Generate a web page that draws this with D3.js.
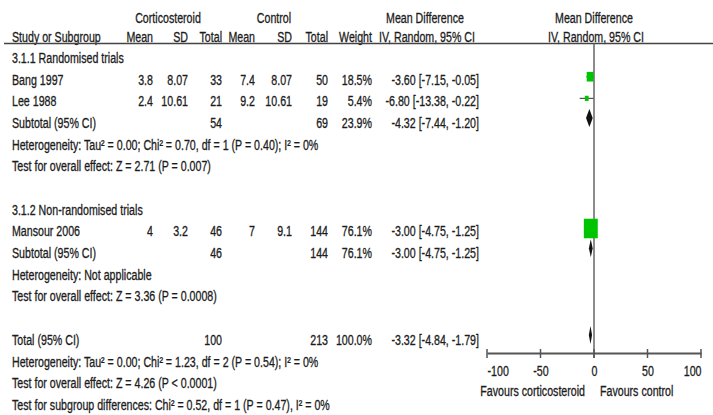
<!DOCTYPE html>
<html>
<head>
<meta charset="utf-8">
<script src="https://cdn.jsdelivr.net/npm/d3@7"></script>
<style>
  body { margin: 0; background: #fff; }
  text { font-family: "Liberation Sans", Arial, sans-serif; font-size: 14px; fill: #1c1c1c; stroke: #1c1c1c; stroke-width: 0.3px; }
</style>
</head>
<body>
<div id="chart"></div>
<script>
// studies
var studies = ["Bang 1997", "Lee 1988", "Mansour 2006"];
var expMean = ["3.8", "2.4", "4"];
var expSD = ["8.07", "10.61", "3.2"];
var expN = [33, 21, 46];
var ctlMean = ["7.4", "9.2", "7"];
var ctlSD = ["8.07", "10.61", "9.1"];
var ctlN = [50, 19, 144];
var weights = [18.5, 5.4, 76.1];
var md = [-3.60, -6.80, -3.00];
var ciLow = [-7.15, -13.38, -4.75];
var ciHigh = [-0.05, -0.22, -1.25];

// subtotals + total
var subLabels = ["Subtotal (95% CI)", "Subtotal (95% CI)", "Total (95% CI)"];
var subExpN = [54, 46, 100];
var subCtlN = [69, 144, 213];
var subWeights = ["23.9%", "76.1%", "100.0%"];
var subMd = [-4.32, -3.00, -3.32];
var subLow = [-7.44, -4.75, -4.84];
var subHigh = [-1.20, -1.25, -1.79];

var groupTitles = ["3.1.1 Randomised trials", "3.1.2 Non-randomised trials"];
var hetText = [
    "Heterogeneity: Tau\u00b2 = 0.00; Chi\u00b2 = 0.70, df = 1 (P = 0.40); I\u00b2 = 0%",
    "Heterogeneity: Not applicable",
    "Heterogeneity: Tau\u00b2 = 0.00; Chi\u00b2 = 1.23, df = 2 (P = 0.54); I\u00b2 = 0%"
];
var effectText = [
    "Test for overall effect: Z = 2.71 (P = 0.007)",
    "Test for overall effect: Z = 3.36 (P = 0.0008)",
    "Test for overall effect: Z = 4.26 (P < 0.0001)"
];
var subgroupText = "Test for subgroup differences: Chi\u00b2 = 0.52, df = 1 (P = 0.47), I\u00b2 = 0%";

var axisTicks = [-100, -50, 0, 50, 100];
var favLeft = "Favours corticosteroid";
var favRight = "Favours control";

var width = 713, height = 415;
var squeeze = 0.76; // narrow look of the original font

var svg = d3.select('#chart')
    .append('svg')
        .attr('width', width)
        .attr('height', height);

// row index -> y
var row = d3.scaleLinear().domain([0, 16]).range([58, 405]);
var x = d3.scaleLinear().domain([-100, 100]).range([487, 701]);
var box = d3.scaleSqrt().domain([0, 100]).range([0, 16]);

// column right edges
var col = { mean1: 153, sd1: 188, n1: 222, mean2: 255, sd2: 292, n2: 328, w: 372, ci: 479 };

function txt(xp, yp, s, anchor) {
    return svg.append('text')
        .attr('x', xp)
        .attr('y', yp)
        .attr('dy', '0.35em')
        .attr('text-anchor', anchor || 'start')
        .text(s);
}
function fmt(v) { return v.toFixed(2); }
function ciStr(m, l, h) { return fmt(m) + ' [' + fmt(l) + ', ' + fmt(h) + ']'; }

/** headers */
txt(168, 18, 'Corticosteroid', 'middle');
txt(274, 18, 'Control', 'middle');
txt(425, 18, 'Mean Difference', 'middle');
txt(594, 18, 'Mean Difference', 'middle');
var hy = 37;
txt(12, hy, 'Study or Subgroup');
txt(col.mean1, hy, 'Mean', 'end');
txt(col.sd1, hy, 'SD', 'end');
txt(col.n1, hy, 'Total', 'end');
txt(col.mean2, hy, 'Mean', 'end');
txt(col.sd2, hy, 'SD', 'end');
txt(col.n2, hy, 'Total', 'end');
txt(col.w, hy, 'Weight', 'end');
txt(427, hy, 'IV, Random, 95% CI', 'middle');
txt(596, hy, 'IV, Random, 95% CI', 'middle');

svg.append('line')
    .attr('x1', 4).attr('x2', width)
    .attr('y1', 43.5).attr('y2', 43.5)
    .attr('stroke', '#444').attr('stroke-width', 1.5);

// zero line
svg.append('line')
    .attr('x1', x(0)).attr('x2', x(0))
    .attr('y1', 43.5).attr('y2', 358)
    .attr('stroke', '#666').attr('stroke-width', 1.5);

/** rows */
var studyRows = [1, 2, 8];
var subRows = [3, 9, 13];
var groupRows = [0, 7];
var hetRows = [4, 10, 14];
var effRows = [5, 11, 15];

groupRows.forEach(function(r, i) { txt(12, row(r), groupTitles[i]); });
hetRows.forEach(function(r, i) { txt(12, row(r), hetText[i]); });
effRows.forEach(function(r, i) { txt(12, row(r), effectText[i]); });
txt(12, row(16), subgroupText);

studies.forEach(function(s, i) {
    var y = row(studyRows[i]);
    txt(12, y, s);
    txt(col.mean1, y, expMean[i], 'end');
    txt(col.sd1, y, expSD[i], 'end');
    txt(col.n1, y, expN[i], 'end');
    txt(col.mean2, y, ctlMean[i], 'end');
    txt(col.sd2, y, ctlSD[i], 'end');
    txt(col.n2, y, ctlN[i], 'end');
    txt(col.w, y, weights[i].toFixed(1) + '%', 'end');
    txt(col.ci, y, ciStr(md[i], ciLow[i], ciHigh[i]), 'end');
});

subLabels.forEach(function(s, i) {
    var y = row(subRows[i]);
    txt(12, y, s);
    txt(col.n1, y, subExpN[i], 'end');
    txt(col.n2, y, subCtlN[i], 'end');
    txt(col.w, y, subWeights[i], 'end');
    txt(col.ci, y, ciStr(subMd[i], subLow[i], subHigh[i]), 'end');
});

/** study markers */
var marks = svg.selectAll('.study')
    .data(studies.map(function(s, i) { return i; }))
    .enter().append('g');

marks.append('line')
    .attr('x1', function(i) { return x(ciLow[i]); })
    .attr('x2', function(i) { return x(ciHigh[i]); })
    .attr('y1', function(i) { return row(studyRows[i]) - 3; })
    .attr('y2', function(i) { return row(studyRows[i]) - 3; })
    .attr('stroke', '#555')
    .attr('stroke-width', 1.2);

marks.append('rect')
    .attr('x', function(i) { return x(md[i]) - box(weights[i]) / 2; })
    .attr('y', function(i) { return row(studyRows[i]) - 3 - box(weights[i]) * 0.7; })
    .attr('width', function(i) { return box(weights[i]); })
    .attr('height', function(i) { return box(weights[i]) * 1.4; })
    .attr('fill', '#00c400');

/** diamonds */
svg.selectAll('.diamond')
    .data(subMd.map(function(s, i) { return i; }))
    .enter().append('path')
        .attr('fill', '#111')
        .attr('d', function(i) {
            var y = row(subRows[i]) - 5;
            return 'M' + x(subLow[i]) + ',' + y +
                'L' + x(subMd[i]) + ',' + (y - 9) +
                'L' + x(subHigh[i]) + ',' + y +
                'L' + x(subMd[i]) + ',' + (y + 9) + 'Z';
        });

/** axis */
var axisY = 353;
var axis = svg.append('g')
    .attr('transform', 'translate(0,' + axisY + ')')
    .call(d3.axisBottom(x).tickValues(axisTicks).tickSize(0).tickPadding(13)
        .tickFormat(function(d) { return String(d); }));
axis.select('.domain').attr('stroke', '#555').attr('stroke-width', 2);
axis.selectAll('.tick text')
    .style('font-family', '"Liberation Sans", Arial, sans-serif')
    .style('font-size', '14px')
    .attr('text-anchor', function(d, i) {
        return i === 0 ? 'start' : (i === axisTicks.length - 1 ? 'end' : 'middle');
    });

svg.selectAll('.tk')
    .data(axisTicks)
    .enter().append('line')
        .attr('x1', function(d) { return x(d); })
        .attr('x2', function(d) { return x(d); })
        .attr('y1', axisY - 4)
        .attr('y2', axisY + 5)
        .attr('stroke', '#555')
        .attr('stroke-width', 1.5);

txt(x(0) - 9, 391, favLeft, 'end');
txt(x(0) + 6, 391, favRight, 'start');

// squeeze all text horizontally
svg.selectAll('text').each(function() {
    var len = this.getComputedTextLength();
    d3.select(this)
        .attr('textLength', len * squeeze)
        .attr('lengthAdjust', 'spacingAndGlyphs');
});
</script>
</body>
</html>
